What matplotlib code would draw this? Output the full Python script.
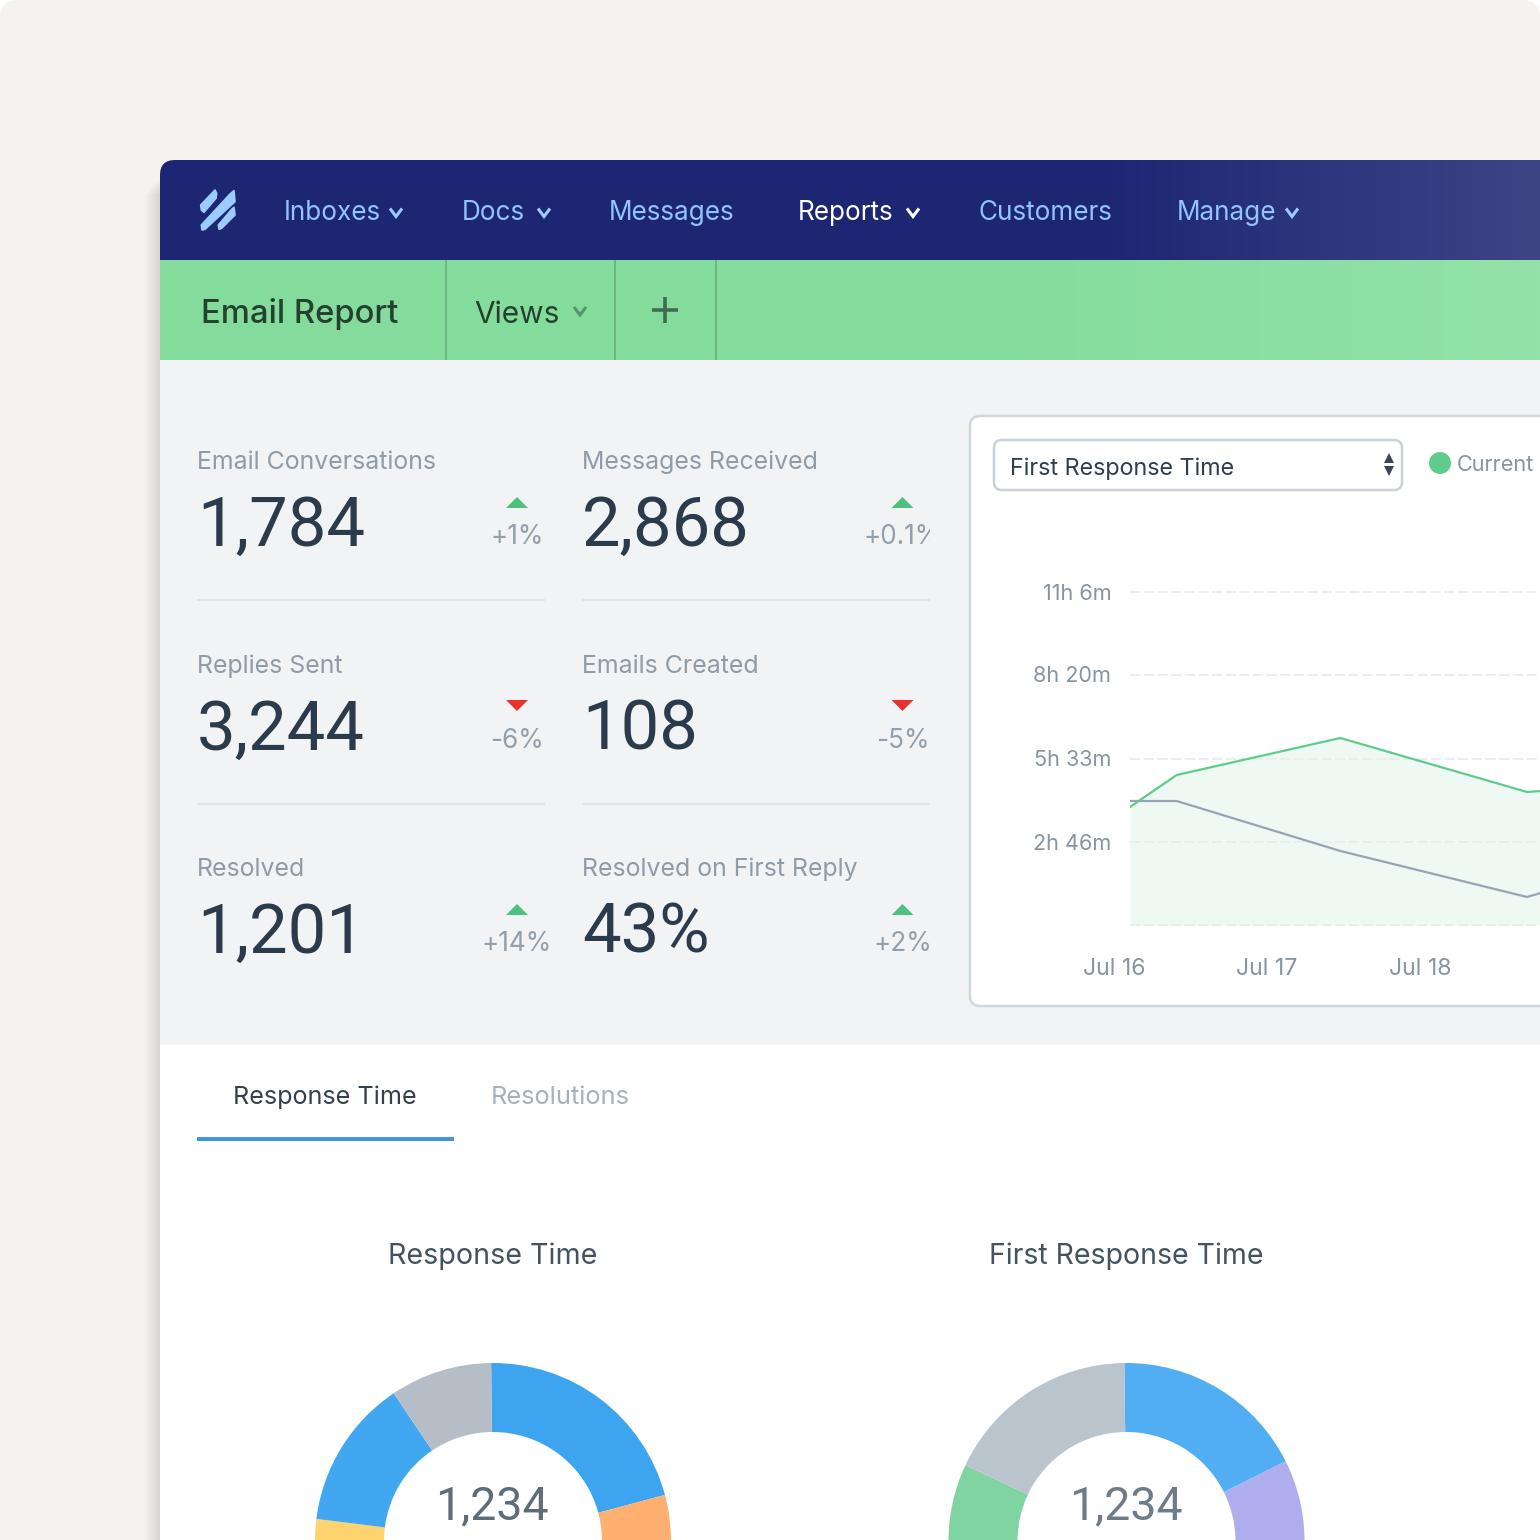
import numpy as np
import matplotlib
matplotlib.use("Agg")
import matplotlib.pyplot as plt
from matplotlib.patches import Rectangle, FancyBboxPatch, Polygon, Circle

plt.rcParams["font.family"] = ["Inter", "DejaVu Sans"]
NUM_FONT = ["Roboto", "DejaVu Sans"]

SIZE = 1540

# nav and tabs
nav_items = ["Inboxes", "Docs", "Messages", "Reports", "Customers", "Manage"]
nav_x = [284, 462, 609, 798, 978, 1177]
nav_caret_x = [396, 544, None, 913, None, 1292]

# stats tiles
stat_labels = ["Email Conversations", "Messages Received", "Replies Sent",
               "Emails Created", "Resolved", "Resolved on First Reply"]
stat_values = ["1,784", "2,868", "3,244", "108", "1,201", "43%"]
stat_deltas = ["+1%", "+0.1%", "-6%", "-5%", "+14%", "+2%"]

# line chart (minutes)
chart_days = [0.105, 0.41, 1.48, 2.70, 2.79]
current_minutes = [236, 300, 374, 266, 268]
previous_minutes = [248, 248, 148, 56, 64]
grid_minutes = [0, 166, 333, 500, 666]
grid_labels = ["", "2h 46m", "5h 33m", "8h 20m", "11h 6m"]
date_ticks = [0, 1, 2]
date_labels = ["Jul 16", "Jul 17", "Jul 18"]

# donuts, clockwise from twelve o'clock
response_shares = [21.0, 12.0, 16.0, 15.0, 13.15, 13.6, 9.25]
response_colors = ["#3DA5F0", "#FFAF70", "#9FE0B5", "#B0ADEE", "#FFD36E", "#42A7F1", "#B5BEC6"]
first_shares = [17.8, 14.0, 18.2, 18.2, 14.0, 17.8]
first_colors = ["#51AEF3", "#AEADEE", "#FFD36E", "#FFAF70", "#80D4A2", "#BAC4CC"]

fig = plt.figure(figsize=(SIZE / 100, SIZE / 100), dpi=100)
fig.patch.set_facecolor("white")


def px_axes(x0, y0, x1, y1, **kw):
    return fig.add_axes([x0 / SIZE, 1 - y1 / SIZE, (x1 - x0) / SIZE, (y1 - y0) / SIZE], **kw)


bg = px_axes(0, 0, SIZE, SIZE)
bg.set_xlim(0, SIZE)
bg.set_ylim(SIZE, 0)
bg.axis("off")

page = FancyBboxPatch((0, 0), SIZE, SIZE + 100, boxstyle="round,pad=0,rounding_size=18",
                      fc="#F5F2EF", ec="none", zorder=0)
bg.add_patch(page)

# soft shadow on the left of the panel
for i in range(16):
    bg.add_patch(Rectangle((160 - i, 176 + i * 1.2), i + 1, SIZE, fc="#6B6B80", alpha=0.012,
                           ec="none", zorder=0.5))

panel = FancyBboxPatch((160, 160), SIZE, SIZE, boxstyle="round,pad=0,rounding_size=15",
                       fc="white", ec="none", zorder=1)
bg.add_patch(panel)


def hgrad(x0, x1, y0, y1, colors, stops, z=2):
    ramp = np.zeros((1, 256, 3))
    rgb = [matplotlib.colors.to_rgb(c) for c in colors]
    for ch in range(3):
        ramp[0, :, ch] = np.interp(np.linspace(0, 1, 256), stops, [c[ch] for c in rgb])
    im = bg.imshow(ramp, extent=(x0, x1, y1, y0), aspect="auto", zorder=z)
    im.set_clip_path(panel)


hgrad(160, SIZE, 160, 260, ["#1D2673", "#1D2673", "#3D4486"], [0, 0.68, 1])
hgrad(160, SIZE, 260, 360, ["#84DC9C", "#84DC9C", "#93E2A9"], [0, 0.6, 1])
bg.set_xlim(0, SIZE)
bg.set_ylim(SIZE, 0)
bg.add_patch(Rectangle((160, 360), SIZE, 685, fc="#F1F3F5", ec="none", zorder=2))


def caret(x, y, color, w=6, h=4, lw=2.2):
    bg.plot([x - w, x, x + w], [y - h, y + h, y - h], color=color, lw=lw, zorder=4,
            solid_capstyle="butt", solid_joinstyle="miter")


# logo
logo_shapes = [
    [(122, 135), (165, 90), (170, 100), (168, 115), (132, 157), (124, 150)],
    [(124, 195), (210, 102), (222, 92), (225, 125), (135, 208), (126, 210)],
    [(175, 195), (215, 148), (222, 142), (225, 165), (185, 205), (177, 208)],
]
for shape in logo_shapes:
    pts = [(160 + a / 3, 160 + b / 3) for a, b in shape]
    bg.add_patch(Polygon(pts, fc="#9CCBFF", ec="#9CCBFF", lw=1.2, joinstyle="round", zorder=4))

# nav text
for name, x, cx in zip(nav_items, nav_x, nav_caret_x):
    c = "white" if name == "Reports" else "#93C5FD"
    bg.text(x, 210, name, color=c, fontsize=18.8, va="center_baseline", ha="left", zorder=4)
    if cx:
        caret(cx, 212.5, "white" if name == "Reports" else "#9CCBFF")

# green bar
bg.text(201, 310.5, "Email Report", color="#26402F", fontsize=23.6, fontweight="medium",
        va="center_baseline", zorder=4)
bg.text(474, 312, "Views", color="#26402F", fontsize=21.5, va="center_baseline", zorder=4)
caret(580, 311, "#56936A")
for x in [446, 614.5, 716]:
    bg.plot([x, x], [260, 360], color="#6CB583", lw=1.4, zorder=4, solid_capstyle="butt")
bg.plot([652, 678], [310, 310], color="#3F6B50", lw=2.6, zorder=4, solid_capstyle="butt")
bg.plot([665, 665], [297, 323], color="#3F6B50", lw=2.6, zorder=4, solid_capstyle="butt")

# stats grid
clip_rect = Rectangle((160, 360), 770, 680, transform=bg.transData)
for i, (lab, val, delta) in enumerate(zip(stat_labels, stat_values, stat_deltas)):
    col, row = i % 2, i // 2
    x0 = [197, 582][col]
    y = [460, 664, 867][row]
    cx = [517, 902.5][col]
    bg.text(x0, y, lab, color="#8F9BA6", fontsize=17.9, va="center_baseline", zorder=4)
    bg.text(x0, y + 59.5, val, color="#2B3B4B", fontsize=49.5, family=NUM_FONT,
            va="center_baseline", zorder=4)
    t = bg.text(cx, y + 74, delta, color="#93A0AB", fontsize=18.8, ha="center",
                va="center_baseline", zorder=4)
    t.set_clip_path(clip_rect)
    t.set_clip_on(True)
    if delta[0] == "+":
        bg.add_patch(Polygon([(cx - 11, y + 48), (cx + 11, y + 48), (cx, y + 37)], fc="#4EC082", ec="none", zorder=4))
    else:
        bg.add_patch(Polygon([(cx - 11, y + 36), (cx + 11, y + 36), (cx, y + 47)], fc="#E8322C", ec="none", zorder=4))
    if row < 2:
        bg.plot([x0, x0 + 348], [y + 140, y + 140], color="#DFE4E8", lw=1.6, zorder=4,
                solid_capstyle="butt")

# chart card
bg.add_patch(FancyBboxPatch((970, 416), 800, 590, boxstyle="round,pad=0,rounding_size=10",
                            fc="white", ec="#D0D8DF", lw=1.8, zorder=3))
bg.add_patch(FancyBboxPatch((994, 440), 408, 50, boxstyle="round,pad=0,rounding_size=8",
                            fc="white", ec="#C9D2DA", lw=1.8, zorder=4))
bg.text(1010, 466, "First Response Time", color="#2F3E4D", fontsize=16.8, va="center_baseline", zorder=5)
bg.add_patch(Polygon([(1384, 463), (1394, 463), (1389, 453)], fc="#3A4856", ec="none", zorder=5))
bg.add_patch(Polygon([(1384, 466), (1394, 466), (1389, 476)], fc="#3A4856", ec="none", zorder=5))
bg.add_patch(Circle((1440, 463), 11, fc="#5FCB8D", ec="none", zorder=5))
bg.text(1457, 463, "Current", color="#8794A1", fontsize=15.6, va="center_baseline", zorder=5)

# line chart
ax = px_axes(1130, 592, SIZE, 925)
ax.patch.set_alpha(0)
ax.set_zorder(5)
ax.set_xlim(chart_days[0], chart_days[0] + (SIZE - 1130) / 153.0)
ax.set_ylim(0, 666)
for s in ax.spines.values():
    s.set_visible(False)
ax.set_xticks([])
ax.set_yticks([])
for m, lab in zip(grid_minutes, grid_labels):
    ax.axhline(m, color="#E8EBEE", lw=1.2, dashes=(6.2, 2), clip_on=False)
    ax.text(-0.046, m - 3, lab, color="#8794A1", fontsize=15.6, ha="right", va="center",
            transform=ax.get_yaxis_transform(), clip_on=False)
for d, lab in zip(date_ticks, date_labels):
    ax.text(d, -88, lab, color="#8794A1", fontsize=16.6, ha="center", va="center", clip_on=False)
ax.fill_between(chart_days, current_minutes, 0, color="#5FCB8D", alpha=0.11, lw=0)
ax.plot(chart_days, previous_minutes, color="#98A3B3", lw=1.6)
ax.plot(chart_days, current_minutes, color="#5FCB8D", lw=1.6)

# bottom tabs
bg.text(325, 1095, "Response Time", color="#33414F", fontsize=18.1, ha="center", va="center_baseline", zorder=4)
bg.text(560, 1095, "Resolutions", color="#A6B1BA", fontsize=18.3, ha="center", va="center_baseline", zorder=4)
bg.add_patch(Rectangle((197, 1137), 257, 3.5, fc="#3C97DE", ec="none", zorder=4))
bg.text(493, 1253, "Response Time", color="#45535F", fontsize=20.6, ha="center", va="center_baseline", zorder=4)
bg.text(1126, 1253, "First Response Time", color="#45535F", fontsize=20.5, ha="center", va="center_baseline", zorder=4)


def donut(cx, cy, start, shares, colors, label, label_color):
    r = 178
    a = px_axes(cx - r, cy - r, cx + r, cy + r)
    a.set_zorder(6)
    a.pie(shares, colors=colors, startangle=start, counterclock=False, radius=1,
          wedgeprops=dict(width=69 / r, lw=0))
    a.set_xlim(-1, 1)
    a.set_ylim(-1, 1)
    a.set_aspect("equal")
    a.text(-0.005, 0.195, label, color=label_color, fontsize=33.5, family=NUM_FONT, ha="center", va="center")


donut(493, 1541, 90.6, response_shares, response_colors, "1,234", "#5F6D79")
donut(1126.5, 1541, 90.7, first_shares, first_colors, "1,234", "#6F7C87")

fig.savefig("out.png", dpi=100)
